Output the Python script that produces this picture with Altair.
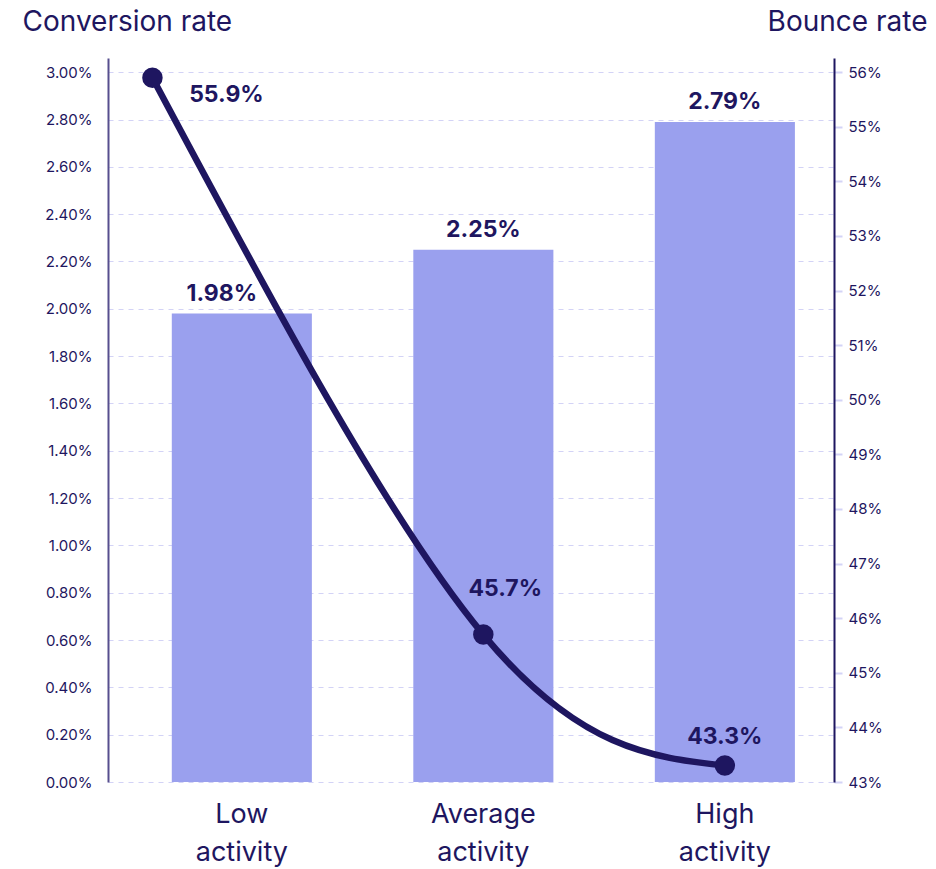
import altair as alt
import pandas as pd

# ---- data -------------------------------------------------------------
categories = ["Low activity", "Average activity", "High activity"]
conversion_rate = [1.98, 2.25, 2.79]          # %
bounce_rate = [55.9, 45.7, 43.3]              # %
# horizontal slot of each bounce-rate point (bar centres sit at 0, 1, 2)
bounce_slot = [-0.37, 1.0, 2.0]

conversion_ticks = [0.0, 0.2, 0.4, 0.6, 0.8, 1.0, 1.2, 1.4, 1.6, 1.8,
                    2.0, 2.2, 2.4, 2.6, 2.8, 3.0]
bounce_ticks = [43, 44, 45, 46, 47, 48, 49, 50, 51, 52, 53, 54, 55, 56]

# ---- style ------------------------------------------------------------
NAVY = "#1e1660"
BAR = "#9aa0ee"
GRID = "#d3d3f6"
FONT = "Inter"

bars_df = pd.DataFrame({"category": categories, "conversion": conversion_rate})
line_df = pd.DataFrame({"category": categories, "slot": bounce_slot,
                        "bounce": bounce_rate})

x_band = alt.X(
    "category:N", sort=categories,
    scale=alt.Scale(paddingInner=0.42, paddingOuter=0.213, align=0.62),
    axis=alt.Axis(title=None, labelExpr="split(datum.label, ' ')", labelAngle=0,
                  labelFontSize=27, labelColor=NAVY, labelFont=FONT,
                  labelLineHeight=38, labelPadding=19, domain=False,
                  ticks=False, grid=False),
)

y_conv = alt.Y(
    "conversion:Q",
    scale=alt.Scale(domain=[0, 3.06], nice=False, zero=True),
    axis=alt.Axis(values=conversion_ticks,
                  labelExpr="format(datum.value, '.2f') + '%'",
                  title="Conversion rate", titleAngle=0, titleAlign="left",
                  titleBaseline="alphabetic", titleX=-86, titleY=-28,
                  titleFontSize=28, titleFontWeight="normal", titleColor=NAVY,
                  titleFont=FONT, labelFontSize=15, labelColor=NAVY,
                  labelFont=FONT, labelPadding=16, ticks=False,
                  domainColor="#574f8e", domainWidth=2, grid=True,
                  gridColor=GRID, gridDash=[5, 5], gridWidth=1.2),
)

bars = alt.Chart(bars_df).mark_bar(color=BAR).encode(x=x_band, y=y_conv)


def bar_label(cat, dx):
    return (
        alt.Chart(bars_df)
        .transform_filter(alt.datum.category == cat)
        .transform_calculate(lbl="format(datum.conversion, '.2f') + '%'")
        .mark_text(font=FONT, fontSize=23, fontWeight="bold", color=NAVY,
                   baseline="alphabetic", dx=dx, dy=-13)
        .encode(x=x_band, y=y_conv, text="lbl:N")
    )


x_slot = alt.X("slot:Q",
               scale=alt.Scale(domain=[-0.554, 2.452], nice=False, zero=False),
               axis=None)

y_bounce = alt.Y(
    "bounce:Q",
    scale=alt.Scale(domain=[43, 56.26], nice=False, zero=False),
    axis=alt.Axis(orient="right", values=bounce_ticks,
                  labelExpr="datum.value + '%'",
                  title="Bounce rate", titleAngle=0, titleAlign="right",
                  titleBaseline="alphabetic", titleX=93, titleY=-28,
                  titleFontSize=28, titleFontWeight="normal", titleColor=NAVY,
                  titleFont=FONT, labelFontSize=15, labelColor=NAVY,
                  labelFont=FONT, labelPadding=6, tickColor=GRID, tickSize=8,
                  tickWidth=2, domainColor=NAVY, domainWidth=2, grid=False),
)

line = (
    alt.Chart(line_df)
    .mark_line(color=NAVY, strokeWidth=6.5, interpolate="natural")
    .encode(x=x_slot, y=y_bounce)
)
points = (
    alt.Chart(line_df)
    .mark_circle(size=420, opacity=1, color=NAVY)
    .encode(x=x_slot, y=y_bounce)
)


def point_label(cat, dx, dy):
    return (
        alt.Chart(line_df)
        .transform_filter(alt.datum.category == cat)
        .transform_calculate(lbl="format(datum.bounce, '.1f') + '%'")
        .mark_text(font=FONT, fontSize=23, fontWeight="bold", color=NAVY,
                   baseline="alphabetic", dx=dx, dy=dy)
        .encode(x=x_slot, y=y_bounce, text="lbl:N")
    )


left = alt.layer(
    bars,
    bar_label("Low activity", -20),
    bar_label("Average activity", 0),
    bar_label("High activity", 0),
)
right = alt.layer(
    line, points,
    point_label("Low activity", 74, 24),
    point_label("Average activity", 22, -39),
    point_label("High activity", 0, -22),
)

chart = (
    alt.layer(left, right)
    .resolve_scale(x="independent", y="independent")
    .properties(width=726, height=724,
                padding={"left": 108, "top": 58, "right": 102, "bottom": 87},
                autosize=alt.AutoSizeParams(type="none"),
                background="white")
    .configure_view(stroke=None)
)

chart.save("out.html", embed_options={"renderer": "svg", "actions": False})
